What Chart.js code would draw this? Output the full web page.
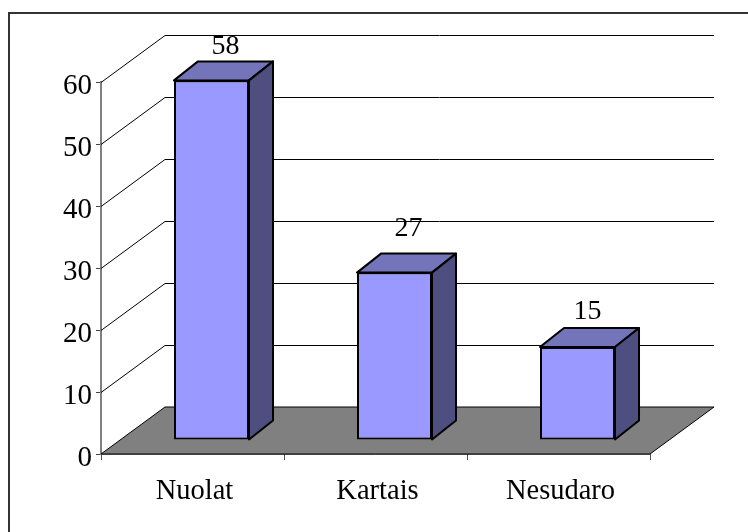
<!DOCTYPE html>
<html>
<head>
<meta charset="utf-8">
<style>
  html, body { margin: 0; padding: 0; background: #fff; }
  canvas { display: block; }
</style>
<script src="https://cdn.jsdelivr.net/npm/chart.js@4"></script>
</head>
<body>
<canvas id="barChart" width="748" height="532"></canvas>
<script>
const categories = ['Nuolat', 'Kartais', 'Nesudaro'];
const values = [58, 27, 15];
const yTicks = [0, 10, 20, 30, 40, 50, 60];

// 3D look, pixel offsets
const wallDx = 64, wallDy = -47;
const barDx = 19, barDy = -14;
const depthDx = 24, depthDy = -19;
const labelLift = [26, 37, 28];
const labelShift = [14, 14, 10];

const box3d = {
    id: 'box3d',
    beforeDraw(chart) {
        const c = chart.ctx;
        c.save();
        c.strokeStyle = '#333';
        c.lineWidth = 2;
        c.beginPath();
        c.moveTo(9, 532);
        c.lineTo(9, 13);
        c.lineTo(748, 13);
        c.stroke();
        c.restore();
    },
    beforeDatasetsDraw(chart) {
        const c = chart.ctx;
        const y = chart.scales.y;
        const a = chart.chartArea;
        c.save();
        // piso
        c.fillStyle = '#808080';
        c.strokeStyle = '#000';
        c.lineWidth = 1;
        c.beginPath();
        c.moveTo(a.left, a.bottom);
        c.lineTo(a.left + wallDx, a.bottom + wallDy);
        c.lineTo(a.right + wallDx, a.bottom + wallDy);
        c.lineTo(a.right, a.bottom);
        c.closePath();
        c.fill();
        c.stroke();
        // linhas de grade na parede
        yTicks.slice(1).forEach(t => {
            const py = Math.round(y.getPixelForValue(t)) + 0.5;
            c.beginPath();
            c.moveTo(a.left, py);
            c.lineTo(a.left + wallDx, py + wallDy);
            c.lineTo(a.right + wallDx, py + wallDy);
            c.stroke();
        });
        c.restore();
    },
    beforeDatasetDraw(chart) {
        const c = chart.ctx;
        c.save();
        c.translate(barDx, barDy);
        chart.getDatasetMeta(0).data.forEach(bar => {
            const l = bar.x - bar.width / 2, r = bar.x + bar.width / 2;
            c.strokeStyle = '#000';
            c.lineWidth = 2;
            c.lineJoin = 'round';
            // topo
            c.fillStyle = '#7474BB';
            c.beginPath();
            c.moveTo(l, bar.y);
            c.lineTo(l + depthDx, bar.y + depthDy);
            c.lineTo(r + depthDx, bar.y + depthDy);
            c.lineTo(r, bar.y);
            c.closePath();
            c.fill();
            c.stroke();
            // lateral
            c.fillStyle = '#4E4E80';
            c.beginPath();
            c.moveTo(r, bar.y);
            c.lineTo(r + depthDx, bar.y + depthDy);
            c.lineTo(r + depthDx, bar.base + depthDy);
            c.lineTo(r, bar.base);
            c.closePath();
            c.fill();
            c.stroke();
        });
    },
    afterDatasetDraw(chart) {
        chart.ctx.restore();
    },
    afterDatasetsDraw(chart) {
        const c = chart.ctx;
        c.save();
        c.font = '28px "Liberation Serif"';
        c.fillStyle = '#000';
        c.textAlign = 'center';
        c.textBaseline = 'alphabetic';
        chart.getDatasetMeta(0).data.forEach((bar, i) => {
            c.fillText(String(values[i]), bar.x + barDx + labelShift[i], bar.y + barDy - labelLift[i]);
        });
        c.restore();
    }
};

const ctx = document.getElementById('barChart').getContext('2d');
new Chart(ctx, {
    type: 'bar',
    data: {
        labels: categories,
        datasets: [{
            data: values,
            backgroundColor: '#9999FF',
            borderColor: '#000',
            borderWidth: 2,
            borderSkipped: false,
            barPercentage: 0.41,
            categoryPercentage: 1,
            clip: false
        }]
    },
    options: {
        responsive: false,
        animation: false,
        layout: { padding: { top: 82, right: 98, left: 0, bottom: 0 } },
        plugins: { legend: { display: false }, tooltip: { enabled: false } },
        scales: {
            x: {
                afterFit: scale => { scale.height = 78; },
                border: { color: '#000', width: 1.5 },
                grid: { drawOnChartArea: false, color: '#555', tickLength: 6, offset: true },
                ticks: {
                    color: '#000',
                    padding: 14,
                    labelOffset: 2,
                    maxRotation: 0,
                    font: { family: '"Liberation Serif"', size: 28.5 }
                }
            },
            y: {
                min: 0,
                max: 60,
                afterFit: scale => { scale.width = 101; },
                afterBuildTicks: scale => { scale.ticks = yTicks.map(v => ({ value: v })); },
                border: { color: '#808080', width: 2 },
                grid: { drawOnChartArea: false, color: '#444', tickLength: 5 },
                ticks: {
                    color: '#000',
                    padding: 4,
                    // linha vazia empurra o numero para baixo do tick
                    callback: v => ['', String(v)],
                    font: { family: '"Liberation Serif"', size: 29, lineHeight: '9px' }
                }
            }
        }
    },
    plugins: [box3d]
});
</script>
</body>
</html>
